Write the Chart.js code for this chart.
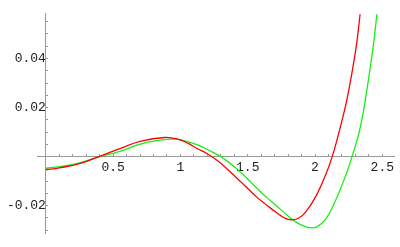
<!DOCTYPE html>
<html>
<head>
<meta charset="utf-8">
<script src="https://cdn.jsdelivr.net/npm/chart.js@4/dist/chart.umd.min.js"></script>
<style>
  html, body { margin: 0; padding: 0; background: #fff; }
  #wrap { width: 400px; height: 247px; }
</style>
</head>
<body>
<div id="wrap"><canvas id="grafico"></canvas></div>
<script>
// curva vermelha
var redX = [0, 0.1, 0.25, 0.4, 0.55, 0.7, 0.884, 0.98, 1.054, 1.127, 1.2, 1.274, 1.347, 1.42, 1.493, 1.567, 1.64, 1.713, 1.77, 1.823, 1.88, 1.933, 2.006, 2.079, 2.128, 2.176, 2.238, 2.304, 2.335];
var redY = [-0.0054, -0.0046, -0.0029, 0.0001, 0.0033, 0.0062, 0.0078, 0.0071, 0.0055, 0.0032, 0.0012, -0.0016, -0.005, -0.0088, -0.0126, -0.0165, -0.0197, -0.0228, -0.0249, -0.0258, -0.025, -0.0224, -0.0162, -0.0074, 0, 0.0095, 0.0235, 0.044, 0.058];

// curva verde
var greenX = [0, 0.1, 0.25, 0.4, 0.55, 0.688, 0.835, 0.957, 1.054, 1.127, 1.2, 1.3, 1.42, 1.493, 1.567, 1.64, 1.713, 1.81, 1.86, 1.91, 1.96, 2.01, 2.08, 2.15, 2.225, 2.275, 2.323, 2.36, 2.428, 2.46];
var greenY = [-0.0047, -0.0041, -0.0025, 0, 0.0021, 0.0049, 0.0066, 0.0071, 0.0061, 0.0048, 0.0029, 0, -0.005, -0.0088, -0.0128, -0.0166, -0.02, -0.0247, -0.0267, -0.0281, -0.0289, -0.0287, -0.0255, -0.0182, -0.0081, 0, 0.0088, 0.0185, 0.0431, 0.058];

// ticks
var xMajor = [0.5, 1, 1.5, 2, 2.5];
var xMinorStep = 0.1;
var yMajor = [-0.02, 0.02, 0.04];
var yMinorStep = 0.005;

function pontos(xs, ys) {
    return xs.map(function (x, i) { return { x: x, y: ys[i] }; });
}

function gerarTicks(min, max, step) {
    var t = [];
    var n0 = Math.ceil(min / step - 1e-9), n1 = Math.floor(max / step + 1e-9);
    for (var n = n0; n <= n1; n++) t.push({ value: +(n * step).toFixed(4) });
    return t;
}

function ehMaior(lista, v) {
    return lista.some(function (m) { return Math.abs(m - v) < 1e-6; });
}

var ctx = document.getElementById('grafico').getContext('2d');

var grafico = new Chart(ctx, {
    type: 'scatter',
    data: {
        datasets: [
            {
                data: pontos(redX, redY),
                showLine: true,
                borderColor: 'rgb(255, 0, 0)',
                borderWidth: 1.3,
                pointRadius: 0,
                tension: 0.4
            },
            {
                data: pontos(greenX, greenY),
                showLine: true,
                borderColor: 'rgb(20, 240, 20)',
                borderWidth: 1.3,
                pointRadius: 0,
                tension: 0.4
            }
        ]
    },
    options: {
        responsive: true,
        maintainAspectRatio: false,
        animation: false,
        layout: { padding: { left: 37, right: 0, top: 13, bottom: 13 } },
        plugins: { legend: { display: false }, tooltip: { enabled: false } },
        scales: {
            x: {
                type: 'linear',
                min: -0.066,
                max: 2.59,
                position: { y: 0 },
                afterBuildTicks: function (s) { s.ticks = gerarTicks(0.1, 2.5, xMinorStep); },
                border: { color: '#999', width: 1 },
                grid: { drawOnChartArea: false, drawTicks: true, tickLength: -3, color: '#999' },
                ticks: {
                    autoSkip: false,
                    maxRotation: 0,
                    padding: 6,
                    color: '#222',
                    font: { family: 'Liberation Mono', size: 13 },
                    callback: function (v) { return ehMaior(xMajor, v) ? String(v) : ''; }
                }
            },
            y: {
                type: 'linear',
                min: -0.0312,
                max: 0.0582,
                position: { x: 0 },
                afterBuildTicks: function (s) { s.ticks = gerarTicks(-0.03, 0.055, yMinorStep); },
                border: { color: '#999', width: 1 },
                grid: { drawOnChartArea: false, drawTicks: true, tickLength: -3, color: '#999' },
                ticks: {
                    autoSkip: false,
                    padding: 6,
                    color: '#222',
                    font: { family: 'Liberation Mono', size: 13 },
                    callback: function (v) { return ehMaior(yMajor, v) ? String(v) : ''; }
                }
            }
        }
    }
});
</script>
</body>
</html>
